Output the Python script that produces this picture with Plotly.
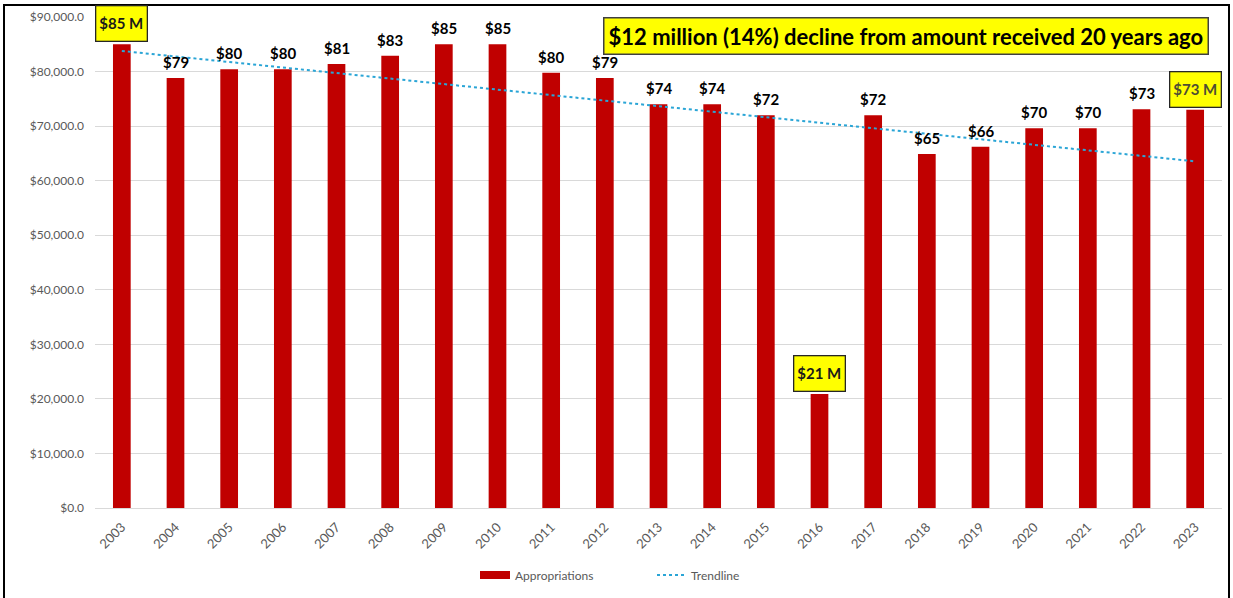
import numpy as np
import plotly.graph_objects as go

years = list(range(2003, 2024))
appropriations = [85000, 78800, 80400, 80400, 81400, 82900, 85000, 85000, 79800, 78800,
                  74000, 74000, 72000, 20900, 72000, 64900, 66200, 69600, 69600, 73100, 73000]
labels = ["$85 M", "$79", "$80", "$80", "$81", "$83", "$85", "$85", "$80", "$79",
          "$74", "$74", "$72", "$21 M", "$72", "$65", "$66", "$70", "$70", "$73", "$73 M"]
highlighted = [2003, 2016, 2023]
callout = "$12 million (14%) decline from amount received 20 years ago"
y_ticks = list(range(0, 90001, 10000))

# Linear trendline (least squares, as Excel computes it)
slope, intercept = np.polyfit(years, appropriations, 1)
trend = [slope * y + intercept for y in years]

FONT = "Lato, Calibri, Arial, sans-serif"
GRAY = "#595959"
RED = "#C00000"
BLUE = "#2AA5D6"

W, H = 1233, 598
# plot area in pixels: x 95..1222, y 17..508
L, T = 95, 17
R, B = W - 1222, H - 508
PW, PH = W - L - R, H - T - B


def px(x):
    return (x - L) / PW


def py(y):
    return (H - B - y) / PH


fig = go.Figure()
fig.add_trace(go.Bar(
    x=years, y=appropriations, name="Appropriations", width=0.33,
    marker=dict(color=RED, line=dict(width=0)),
))
fig.add_trace(go.Scatter(
    x=years, y=trend, name="Trendline", mode="lines",
    line=dict(color=BLUE, width=2, dash="dot"),
))

annotations = []
for yr, val, lab in zip(years, appropriations, labels):
    if yr in highlighted:
        annotations.append(dict(
            x=yr, y=val, xref="x", yref="y", text=f"<b>{lab}</b>", showarrow=False,
            yanchor="bottom", yshift=2, width=46, height=30,
            font=dict(family=FONT, size=15, color="#1a1a1a" if yr != 2023 else "#4d4d33"),
            bgcolor="#FFFF00", bordercolor="#262626", borderwidth=1.3, borderpad=2,
        ))
    else:
        annotations.append(dict(
            x=yr, y=val, xref="x", yref="y", text=f"<b>{lab}</b>", showarrow=False,
            yanchor="bottom", yshift=5,
            font=dict(family=FONT, size=15, color="#000000"),
        ))

annotations.append(dict(
    x=px(906), y=py(36), xref="paper", yref="paper", text=f"<b>{callout}</b>",
    showarrow=False, xanchor="center", yanchor="middle",
    font=dict(family=FONT, size=22, color="#000000"),
    bgcolor="#FFFF00", bordercolor="#404040", borderwidth=1.5, borderpad=4,
))

# Custom legend (wide swatches as in the original)
annotations += [
    dict(x=px(513), y=py(575), xref="paper", yref="paper", text="Appropriations",
         showarrow=False, xanchor="left", yanchor="middle",
         font=dict(family=FONT, size=12, color=GRAY)),
    dict(x=px(689), y=py(575), xref="paper", yref="paper", text="Trendline",
         showarrow=False, xanchor="left", yanchor="middle",
         font=dict(family=FONT, size=12, color=GRAY)),
]
shapes = [
    dict(type="rect", xref="paper", yref="paper",
         x0=px(4), x1=px(1229), y0=py(700), y1=py(5),
         line=dict(color="black", width=2), fillcolor="rgba(0,0,0,0)", layer="above"),
    dict(type="rect", xref="paper", yref="paper",
         x0=px(480), x1=px(510), y0=py(579), y1=py(571),
         line=dict(width=0), fillcolor=RED),
    dict(type="line", xref="paper", yref="paper",
         x0=px(657), x1=px(685), y0=py(575), y1=py(575),
         line=dict(color=BLUE, width=2, dash="dot")),
]

fig.update_layout(
    width=W, height=H,
    margin=dict(l=L, r=R, t=T, b=B),
    paper_bgcolor="white", plot_bgcolor="white",
    font=dict(family=FONT, color=GRAY),
    showlegend=False,
    annotations=annotations,
    shapes=shapes,
)
fig.update_xaxes(
    range=[2002.5, 2023.5], tickvals=years, ticktext=[str(y) for y in years],
    tickangle=-45, showgrid=False, showline=False, zeroline=False, automargin=False,
    ticklabelstandoff=8,
    tickfont=dict(family=FONT, size=13, color=GRAY), ticks="",
)
fig.update_yaxes(
    range=[0, 90000], tickvals=y_ticks, tickformat="$,.1f", automargin=False,
    showgrid=True, gridcolor="#D9D9D9", gridwidth=1, zeroline=True,
    zerolinecolor="#D9D9D9", zerolinewidth=1, ticklabelstandoff=10,
    tickfont=dict(family=FONT, size=12, color=GRAY), ticks="",
)

fig.write_html("out.html", config={"displayModeBar": False},
               post_script="document.body.style.margin='0';document.body.style.overflow='hidden';")
